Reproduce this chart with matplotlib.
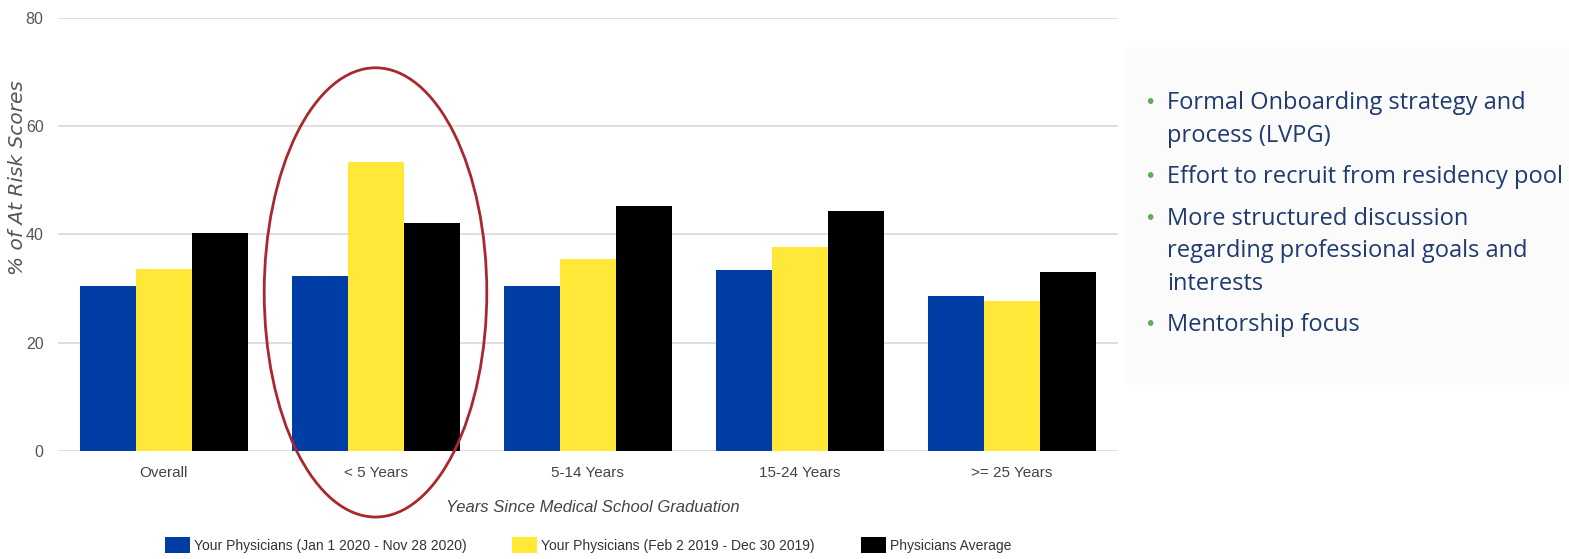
import matplotlib.pyplot as plt
import numpy as np
from matplotlib.patches import Ellipse

categories = ["Overall", "< 5 Years", "5-14 Years", "15-24 Years", ">= 25 Years"]
jan2020 = [30.5, 32.4, 30.5, 33.4, 28.6]
feb2019 = [33.7, 53.4, 35.5, 37.7, 27.7]
average = [40.2, 42.1, 45.3, 44.3, 33.1]
series_names = ["Your Physicians (Jan 1 2020 - Nov 28 2020)",
                "Your Physicians (Feb 2 2019 - Dec 30 2019)",
                "Physicians Average"]
bullets = [["Formal Onboarding strategy and", "process (LVPG)"],
           ["Effort to recruit from residency pool"],
           ["More structured discussion", "regarding professional goals and", "interests"],
           ["Mentorship focus"]]

colors = ["#003DA5", "#FFE838", "#000000"]
narrow = ["Liberation Sans", "DejaVu Sans"]

W, H = 1569, 559
fig = plt.figure(figsize=(W / 100, H / 100), dpi=100)
ax = fig.add_axes([57.5 / W, 1 - 451 / H, 1060 / W, 433 / H])

x = np.arange(len(categories))
bw = 56 / 212
for i, vals in enumerate([jan2020, feb2019, average]):
    ax.bar(x + (i - 1) * bw, vals, bw, color=colors[i], label=series_names[i], zorder=2)

ax.set_xlim(-0.5, len(categories) - 0.5)
ax.set_ylim(0, 80)
ax.set_yticks([0, 20, 40, 60, 80])
ax.grid(axis="y", color="#d9d9d9", linewidth=1.2, zorder=0)
for s in ax.spines.values():
    s.set_visible(False)
ax.tick_params(length=0, colors="#555555", labelsize=11)
ax.set_xticks(x)
ax.set_xticklabels(categories, family=narrow, color="#444444", fontsize=11)
for t in ax.get_yticklabels():
    t.set_family(narrow)
    t.set_fontsize(11.5)
ax.tick_params(axis="y", pad=10)
ax.tick_params(axis="x", pad=11)

fig.text(18 / W, 1 - 178 / H, "% of At Risk Scores", rotation=90, style="italic",
         color="#555555", fontsize=14.5, ha="center", va="center")
fig.text(593 / W, 1 - 508 / H, "Years Since Medical School Graduation", style="italic",
         color="#444444", fontsize=12, ha="center", va="center", family=narrow)

leg = fig.legend(loc="center", bbox_to_anchor=(588 / W, 1 - 545 / H), ncol=3, frameon=False,
                 handlelength=1.8, handleheight=1.5, columnspacing=3.3, handletextpad=0.3,
                 prop={"family": narrow, "size": 10})
for t in leg.get_texts():
    t.set_color("#333333")

ell = Ellipse((1, 29.3), 1.05, 83, transform=ax.transData, fill=False,
              edgecolor="#A8282E", linewidth=2, clip_on=False, zorder=5)
ax.add_patch(ell)

fig.patches.append(plt.Rectangle((1125 / W, 1 - 383 / H), 444 / W, 335 / H,
                                 transform=fig.transFigure, color="#fbfbfb", zorder=-1))

y = 103
for item in bullets:
    fig.text(1150 / W, 1 - y / H, "•", color="#5BAF57", fontsize=14, ha="center", va="center")
    for line in item:
        fig.text(1167 / W, 1 - y / H, line, color="#1F3A6E", fontsize=17, ha="left",
                 va="center", family="Open Sans")
        y += 32.5
    y += 9

fig.savefig("out.png", dpi=100)
